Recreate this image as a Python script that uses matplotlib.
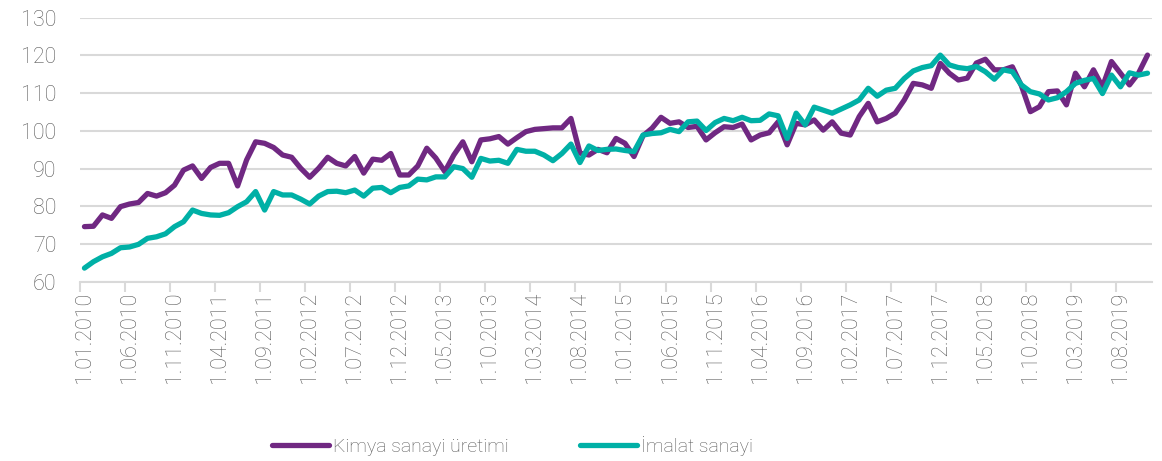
import numpy as np
import matplotlib.pyplot as plt

# monthly index values, Jan 2010 .. Nov 2019
kimya = [74.6, 74.7, 77.7, 76.8, 79.9, 80.6, 81.0, 83.4, 82.7, 83.6,
         85.6, 89.6, 90.7, 87.4, 90.3, 91.4, 91.4, 85.4, 92.3, 97.1,
         96.7, 95.6, 93.6, 93.0, 90.1, 87.7, 90.1, 93.0, 91.4, 90.7,
         93.2, 88.8, 92.5, 92.2, 94.0, 88.3, 88.3, 90.7, 95.4, 92.8,
         89.2, 93.6, 97.1, 91.8, 97.6, 97.9, 98.5, 96.5, 98.2, 99.8,
         100.4, 100.6, 100.8, 100.8, 103.3, 94.1, 93.6, 95.1, 94.2, 98.0,
         96.7, 93.2, 98.7, 100.7, 103.6, 102.0, 102.4, 100.9, 101.2, 97.6,
         99.5, 101.1, 100.9, 101.8, 97.6, 98.9, 99.5, 102.4, 96.3, 102.0,
         101.6, 102.9, 100.2, 102.4, 99.4, 98.9, 103.8, 107.3, 102.4, 103.3,
         104.7, 108.2, 112.6, 112.2, 111.3, 117.9, 115.3, 113.5, 114.0, 118.0,
         119.0, 116.2, 116.2, 117.0, 112.0, 105.1, 106.4, 110.4, 110.6, 106.9,
         115.3, 111.7, 116.2, 111.7, 118.4, 115.3, 112.2, 115.3, 120.1]

imalat = [63.6, 65.3, 66.6, 67.5, 69.0, 69.2, 69.9, 71.5, 71.9, 72.7,
          74.6, 75.9, 79.0, 78.1, 77.7, 77.6, 78.3, 79.9, 81.2, 83.9,
          79.0, 83.9, 83.0, 83.0, 81.9, 80.6, 82.7, 83.9, 84.0, 83.6,
          84.3, 82.7, 84.8, 85.0, 83.6, 85.0, 85.4, 87.2, 87.0, 87.8,
          87.8, 90.5, 90.0, 87.7, 92.7, 92.0, 92.2, 91.4, 95.1, 94.6,
          94.6, 93.6, 92.1, 94.0, 96.5, 91.6, 96.0, 94.8, 95.1, 95.2,
          94.8, 94.5, 98.9, 99.3, 99.5, 100.4, 99.8, 102.4, 102.6, 100.1,
          102.2, 103.3, 102.7, 103.6, 102.7, 102.8, 104.5, 104.0, 98.0, 104.7,
          101.6, 106.3, 105.5, 104.7, 105.8, 106.9, 108.2, 111.3, 109.2, 110.8,
          111.3, 113.9, 115.9, 116.8, 117.3, 120.1, 117.5, 116.8, 116.5, 117.1,
          115.7, 113.7, 116.2, 115.7, 112.2, 110.4, 109.8, 108.2, 108.8, 110.4,
          112.6, 113.4, 113.9, 109.9, 114.8, 111.7, 115.4, 114.8, 115.3]

tick_labels = ["1.01.2010", "1.06.2010", "1.11.2010", "1.04.2011", "1.09.2011",
               "1.02.2012", "1.07.2012", "1.12.2012", "1.05.2013", "1.10.2013",
               "1.03.2014", "1.08.2014", "1.01.2015", "1.06.2015", "1.11.2015",
               "1.04.2016", "1.09.2016", "1.02.2017", "1.07.2017", "1.12.2017",
               "1.05.2018", "1.10.2018", "1.03.2019", "1.08.2019"]

plt.rcParams['font.family'] = ['Roboto', 'DejaVu Sans']
plt.rcParams['font.weight'] = 'light'
grey = '#d9d9d9'
txt = '#595959'

fig = plt.figure(figsize=(11.62, 4.61), dpi=100)
ax = fig.add_axes([0.0688, 0.389, 0.9226, 0.5724])

n = len(kimya)
x = np.arange(n)
ax.plot(x, kimya, color='#702882', lw=3.8, solid_capstyle='round',
        solid_joinstyle='round', label='Kimya sanayi üretimi', zorder=3)
ax.plot(x, imalat, color='#00b0a6', lw=3.8, solid_capstyle='round',
        solid_joinstyle='round', label='İmalat sanayi', zorder=4)

ax.set_xlim(-0.5, n - 0.5)
ax.set_ylim(60, 130)
ax.set_yticks(range(60, 131, 10))
ax.yaxis.grid(True, color=grey, lw=1.5)
ax.set_axisbelow(True)

ax.set_xticks(np.arange(0, n, 5))
ax.set_xticklabels(tick_labels, rotation=90)
ax.set_xticks(np.arange(-0.5, n, 5), minor=True)
ax.tick_params(axis='x', which='major', length=0, pad=7, labelsize=15.5,
               labelcolor=txt)
ax.tick_params(axis='x', which='minor', length=7, width=1.5, color=grey)
ax.tick_params(axis='y', length=0, pad=17, labelsize=15.5, labelcolor=txt)

for s in ['left', 'right', 'top']:
    ax.spines[s].set_visible(False)
ax.spines['bottom'].set_color(grey)
ax.spines['bottom'].set_linewidth(1.5)

leg = fig.legend(loc='center', bbox_to_anchor=(0.441, 0.033), ncol=2,
                 frameon=False, fontsize=14, handlelength=2.9,
                 handletextpad=0.2, columnspacing=3.7)
for t in leg.get_texts():
    t.set_color(txt)

fig.savefig('out.png', dpi=100)
